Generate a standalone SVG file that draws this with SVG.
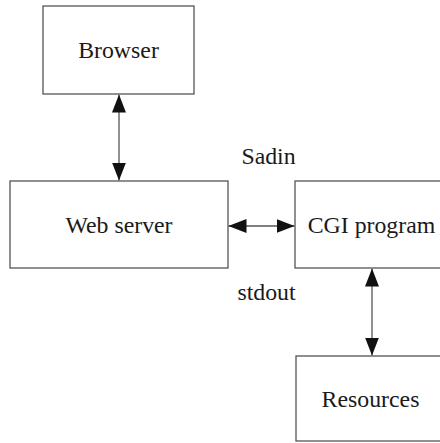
<svg xmlns="http://www.w3.org/2000/svg" width="440" height="443" viewBox="0 0 440 443">
<defs>
<style>
.box{fill:#fff;stroke:#555;stroke-width:1.3}
.lbl{font-family:"Liberation Serif","Times New Roman",serif;font-size:23.8px;fill:#1a1a1a;text-anchor:middle}
.conn{stroke:#555;stroke-width:1.3;fill:none}
</style>
<marker id="ah" viewBox="0 0 18 14" refX="18" refY="7" markerWidth="18" markerHeight="14" markerUnits="userSpaceOnUse" orient="auto-start-reverse">
<path d="M0,0 L18,7 L0,14 z" fill="#111"/>
</marker>
</defs>
<rect width="440" height="443" fill="#fff"/>
<g id="connectors">
<line class="conn" x1="119" y1="94.5" x2="119" y2="180.5" marker-start="url(#ah)" marker-end="url(#ah)"/>
<line class="conn" x1="228.5" y1="226" x2="294.5" y2="226" marker-start="url(#ah)" marker-end="url(#ah)"/>
<line class="conn" x1="372" y1="268.5" x2="372" y2="355.5" marker-start="url(#ah)" marker-end="url(#ah)"/>
</g>
<g id="browser">
<rect class="box" x="43" y="6" width="151" height="88"/>
<text class="lbl" x="118.5" y="58">Browser</text>
</g>
<g id="webserver">
<rect class="box" x="10" y="181" width="218" height="87"/>
<text class="lbl" x="119" y="233">Web server</text>
</g>
<g id="cgi">
<rect class="box" x="295" y="181" width="160" height="87"/>
<text class="lbl" x="371.5" y="233">CGI program</text>
</g>
<g id="resources">
<rect class="box" x="296" y="356" width="160" height="85"/>
<text class="lbl" x="370.5" y="407">Resources</text>
</g>
<g id="labels">
<text class="lbl" x="268.5" y="164">Sadin</text>
<text class="lbl" x="266.5" y="300">stdout</text>
</g>
</svg>
